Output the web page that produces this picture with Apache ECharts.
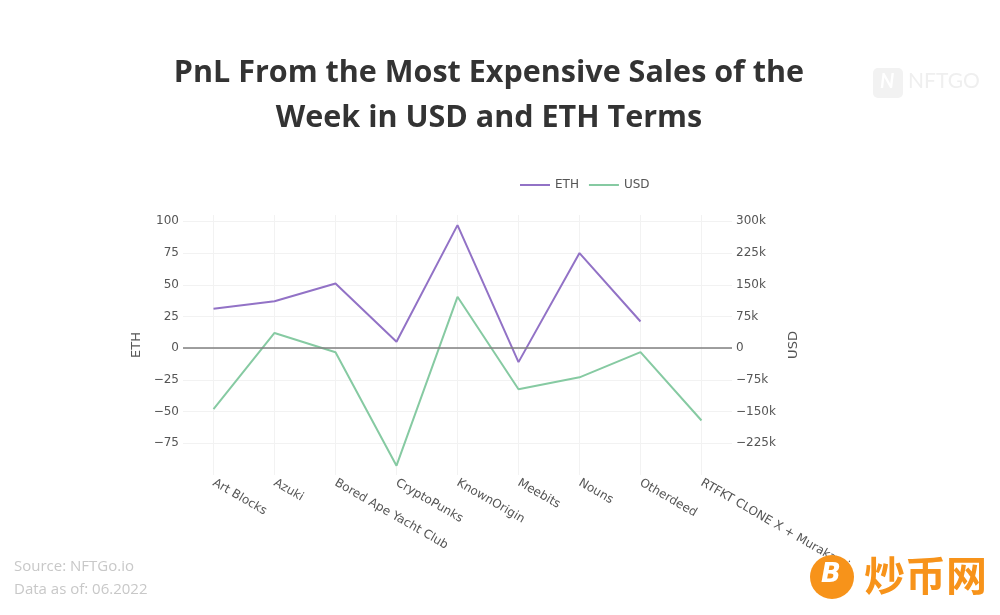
<!DOCTYPE html>
<html>
<head>
<meta charset="utf-8">
<script src="https://cdn.jsdelivr.net/npm/echarts@6/dist/echarts.min.js"></script>
<style>html,body{margin:0;padding:0;background:#fff;}#main{width:1000px;height:615px;}</style>
</head>
<body>
<div id="main"></div>
<script>
const categories = ['Art Blocks', 'Azuki', 'Bored Ape Yacht Club', 'CryptoPunks', 'KnownOrigin', 'Meebits', 'Nouns', 'Otherdeed', 'RTFKT CLONE X + Murakami'];
const ethValues = [31, 37, 51, 5, 97, -11, 75, 21, null];
const usdValues = [-144000, 36000, -9500, -278000, 121500, -97000, -69000, -9500, -171000];
const ethTicks = { min: -100, max: 105, interval: 25 };
const usdTicks = { min: -300000, max: 315000, interval: 75000 };

const ETH_COLOR = '#9272c6';
const USD_COLOR = '#86caa2';
const FONT = '"DejaVu Sans", Verdana, sans-serif';

const chart = echarts.init(document.getElementById('main'));
chart.setOption({
  backgroundColor: '#ffffff',
  animation: false,
  title: {
    text: 'PnL From the Most Expensive Sales of the\nWeek in USD and ETH Terms',
    left: 484, top: 46, textAlign: 'center',
    textStyle: { fontFamily: '"Open Sans", sans-serif', fontWeight: 'bold', fontSize: 30.5, lineHeight: 45, color: '#333333' }
  },
  legend: {
    data: ['ETH', 'USD'],
    left: 515, top: 174,
    icon: 'rect',
    itemWidth: 30, itemHeight: 2, itemGap: 10,
    textStyle: { fontFamily: FONT, fontSize: 12, color: '#555' }
  },
  grid: { left: 183, right: 268, top: 215, bottom: 140, containLabel: false },
  xAxis: {
    type: 'category',
    data: categories,
    boundaryGap: true,
    axisLine: { show: false },
    axisTick: { show: false },
    splitLine: { show: true, alignWithLabel: true, lineStyle: { color: '#f2f2f2', width: 1 } },
    axisLabel: { rotate: -30, margin: 7, interval: 0, fontFamily: FONT, fontSize: 12, color: '#555' }
  },
  yAxis: [
    {
      type: 'value', name: 'ETH', nameLocation: 'middle', nameGap: 40, nameRotate: 90,
      nameTextStyle: { fontFamily: FONT, fontSize: 13, color: '#555' },
      min: ethTicks.min, max: ethTicks.max, interval: ethTicks.interval,
      axisLine: { show: false }, axisTick: { show: false },
      axisLabel: { showMinLabel: false, showMaxLabel: false, margin: 4, fontFamily: FONT, fontSize: 12, color: '#555',
        formatter: v => (v === ethTicks.min || v > 100) ? '' : String(v).replace('-', '\u2212') },
      splitLine: { showMinLine: false, showMaxLine: false, lineStyle: { color: '#f2f2f2', width: 1 } }
    },
    {
      type: 'value', name: 'USD', nameLocation: 'middle', nameGap: 45, nameRotate: 90,
      nameTextStyle: { fontFamily: FONT, fontSize: 13, color: '#555' },
      min: usdTicks.min, max: usdTicks.max, interval: usdTicks.interval,
      axisLine: { show: false }, axisTick: { show: false },
      axisLabel: { showMinLabel: false, showMaxLabel: false, margin: 4, fontFamily: FONT, fontSize: 12, color: '#555',
        formatter: v => {
          if (v === usdTicks.min || v > 300000) return '';
          if (v === 0) return '0';
          return (v / 1000 + 'k').replace('-', '\u2212');
        } },
      splitLine: { show: false }
    }
  ],
  series: [
    {
      name: 'ETH', type: 'line', yAxisIndex: 0, data: ethValues,
      symbol: 'none', connectNulls: false,
      lineStyle: { color: ETH_COLOR, width: 2 }, itemStyle: { color: ETH_COLOR },
      markLine: {
        silent: true, symbol: 'none', label: { show: false },
        lineStyle: { color: '#7f7f7f', width: 1.5, type: 'solid' },
        data: [{ yAxis: 0 }]
      },
      z: 3
    },
    {
      name: 'USD', type: 'line', yAxisIndex: 1, data: usdValues,
      symbol: 'none',
      lineStyle: { color: USD_COLOR, width: 2 }, itemStyle: { color: USD_COLOR },
      z: 2
    }
  ],
  graphic: [
    { type: 'text', left: 14, top: 559, style: { text: 'Source: NFTGo.io', fontFamily: '"Open Sans", sans-serif', fontSize: 15, fill: '#c8c8c8' } },
    { type: 'text', left: 14, top: 582, style: { text: 'Data as of: 06.2022', fontFamily: '"Open Sans", sans-serif', fontSize: 15, fill: '#c8c8c8' } },
    { type: 'rect', shape: { x: 873, y: 68, width: 30, height: 30, r: 5 }, style: { fill: '#f2f2f2' } },
    { type: 'text', left: 880, top: 72, style: { text: 'N', fontFamily: 'Lato, sans-serif', fontWeight: 'bold', fontStyle: 'italic', fontSize: 20, fill: '#ffffff' } },
    { type: 'text', left: 908, top: 71, style: { text: 'NFTGO', fontFamily: 'Lato, sans-serif', fontSize: 21, fill: '#efefef' } },
    { type: 'circle', z: 100, zlevel: 1, shape: { cx: 832, cy: 577, r: 22 }, style: { fill: '#f7931a' } },
    { type: 'text', z: 101, zlevel: 1, left: 821, top: 562, style: { text: 'B', fontFamily: '"DejaVu Sans", sans-serif', fontWeight: 'bold', fontStyle: 'italic', fontSize: 26, fill: '#ffffff' } },
    { type: 'text', z: 101, zlevel: 1, left: 864, top: 555, style: { text: '炒币网', fontFamily: '"Noto Sans CJK SC", sans-serif', fontWeight: 'bold', fontSize: 41, fill: '#f7931a' } }
  ]
});
</script>
</body>
</html>
